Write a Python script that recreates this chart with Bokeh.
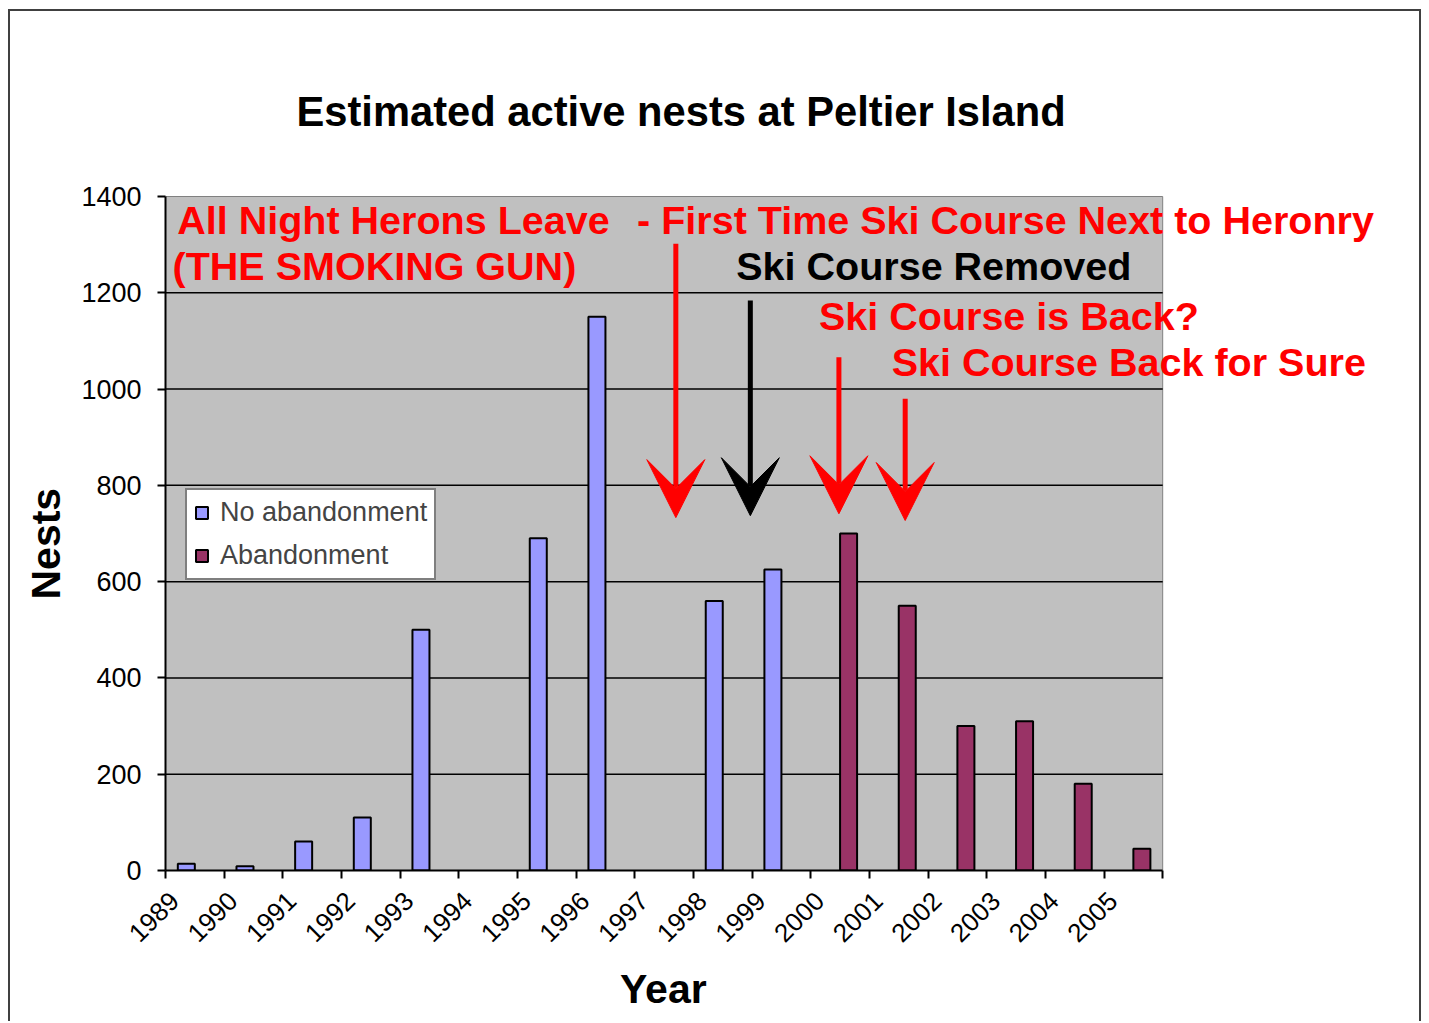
from bokeh.plotting import figure
from bokeh.models import (FixedTicker, Label, Arrow, VeeHead, Legend, LegendItem,
                          ColumnDataSource, Range1d, Title)
from bokeh.embed import file_html
from bokeh.resources import INLINE
import math

# ---------------- data ----------------
years = ["1989", "1990", "1991", "1992", "1993", "1994", "1995", "1996", "1997",
         "1998", "1999", "2000", "2001", "2002", "2003", "2004", "2005"]
no_abandonment = [14, 9, 60, 110, 500, 0, 690, 1150, 0, 560, 625, 0, 0, 0, 0, 0, 0]
abandonment = [0, 0, 0, 0, 0, 0, 0, 0, 0, 0, 0, 700, 550, 300, 310, 180, 45]
y_ticks = [0, 200, 400, 600, 800, 1000, 1200, 1400]

BLUE = "#9999FF"
PLUM = "#993366"
GRAY = "#C0C0C0"
RED = "#FF0000"
FONT = "Liberation Sans"

n = len(years)
y_top = y_ticks[-1]
bw = 0.29
src_no = ColumnDataSource(dict(
    x=[i + 0.5 - bw / 2 for i in range(n) if no_abandonment[i] > 0],
    top=[v for v in no_abandonment if v > 0]))
src_ab = ColumnDataSource(dict(
    x=[i + 0.5 + bw / 2 for i in range(n) if abandonment[i] > 0],
    top=[v for v in abandonment if v > 0]))

# layout (pixels): plot area 998 x 674, frame extended up/right so that
# the annotations spilling out of the grey area can be drawn
W, H = 1413, 1012
ML, MR, MT, MB = 154, 8, 9, 153
plot_w, plot_h = 998, 674
x_max = n * (W - ML - MR) / plot_w
y_max = y_top * (H - MT - MB) / plot_h

p = figure(width=W, height=H, output_backend="svg", toolbar_location=None,
           x_range=Range1d(0, x_max), y_range=Range1d(0, y_max),
           min_border_left=ML, min_border_right=MR, min_border_top=MT,
           min_border_bottom=MB)
p.styles = {"border-top": "2px solid #404040", "border-left": "2px solid #404040",
            "border-right": "2px solid #404040",
            "margin-left": "8px", "margin-top": "9px"}
p.background_fill_color = "white"
p.border_fill_color = "white"
p.outline_line_color = None
p.xgrid.grid_line_color = None
p.ygrid.grid_line_color = None

# grey plot area + gridlines
p.quad(left=0, right=n, bottom=0, top=y_top, fill_color=GRAY,
       line_color="#808080", line_width=1)
grid_vals = y_ticks[1:-1]
p.segment(x0=[0] * len(grid_vals), x1=[n] * len(grid_vals), y0=grid_vals, y1=grid_vals,
          line_color="black", line_width=1.5)

r_no = p.vbar(x="x", top="top", width=bw, source=src_no, fill_color=BLUE,
              line_color="black", line_width=2)
r_ab = p.vbar(x="x", top="top", width=bw, source=src_ab, fill_color=PLUM,
              line_color="black", line_width=2)

# y axis
p.yaxis.bounds = (0, y_top)
p.yaxis.ticker = FixedTicker(ticks=y_ticks)
p.yaxis.axis_line_width = 2
p.yaxis.major_tick_line_width = 2
p.yaxis.major_tick_out = 8
p.yaxis.major_tick_in = 0
p.yaxis.minor_tick_line_color = None
p.yaxis.major_label_text_font = FONT
p.yaxis.major_label_text_font_size = "27px"
p.yaxis.major_label_text_color = "black"
p.yaxis.major_label_standoff = 16

# x axis: labels anchored a little into each category, tick marks at boundaries
label_pos = [i + 0.15 for i in range(n)]
p.xaxis.bounds = (0, n)
p.xaxis.ticker = FixedTicker(ticks=label_pos, minor_ticks=list(range(n + 1)))
p.xaxis.major_label_overrides = {label_pos[i]: years[i] for i in range(n)}
p.xaxis.major_tick_out = 0
p.xaxis.major_tick_in = 0
p.xaxis.minor_tick_out = 8
p.xaxis.minor_tick_in = 0
p.xaxis.minor_tick_line_width = 2
p.xaxis.minor_tick_line_color = "black"
p.xaxis.axis_line_width = 2
p.xaxis.major_label_orientation = math.pi / 4
p.xaxis.major_label_text_font = FONT
p.xaxis.major_label_text_font_size = "26px"
p.xaxis.major_label_text_color = "black"
p.xaxis.major_label_standoff = 18

# axis titles, placed relative to the grey plot area
year_w = 89      # approx rendered width of "Year"
nests_w = 112    # approx rendered length of "Nests"
p.add_layout(Title(text="Year", align="left", offset=plot_w / 2 - year_w / 2,
                   text_font=FONT, text_font_style="bold", text_font_size="41px",
                   text_color="black", standoff=20), "below")
p.add_layout(Title(text="Nests", align="left", offset=plot_h / 2 - nests_w / 2 - 10,
                   text_font=FONT, text_font_style="bold", text_font_size="41px",
                   text_color="black", standoff=20), "left")

# legend
legend = Legend(items=[LegendItem(label="No abandonment", renderers=[r_no]),
                       LegendItem(label="Abandonment", renderers=[r_ab])],
                location=(20, 290), margin=0, padding=7, spacing=12,
                glyph_width=15, glyph_height=15, label_height=28,
                label_standoff=11,
                label_text_font=FONT, label_text_font_size="27px",
                border_line_color="black", border_line_width=2,
                background_fill_color="white", background_fill_alpha=1)
p.add_layout(legend)

# chart title
p.add_layout(Label(x=8.79, y=1577, text="Estimated active nests at Peltier Island",
                   text_align="center", text_baseline="middle",
                   text_font=FONT, text_font_style="bold",
                   text_font_size="41.7px", text_color="black"))

# annotations (text, x, y of cap centre, colour)
notes = [
    ("All Night Herons Leave", 0.20, 1352, RED),
    ("- First Time Ski Course Next to Heronry", 8.04, 1352, RED),
    ("(THE SMOKING GUN)", 0.12, 1255, RED),
    ("Ski Course Removed", 9.73, 1255, "black"),
    ("Ski Course is Back?", 11.14, 1151, RED),
    ("Ski Course Back for Sure", 12.38, 1057, RED),
]
for txt, x, y, c in notes:
    p.add_layout(Label(x=x, y=y, text=txt, text_align="left", text_baseline="middle",
                       text_font=FONT, text_font_style="bold",
                       text_font_size="39.5px", text_color=c))

# arrows (x, shaft top, tip, colour)
arrows = [
    (8.70, 1302, 733, RED),
    (9.97, 1184, 737, "black"),
    (11.48, 1066, 741, RED),
    (12.61, 980, 727, RED),
]
for x, y0, y1, c in arrows:
    p.add_layout(Arrow(x_start=x, y_start=y0, x_end=x, y_end=y1,
                       line_color=c, line_width=5,
                       end=VeeHead(size=58, fill_color=c, line_color=c)))

open("out.html", "w").write(file_html(p, INLINE))
